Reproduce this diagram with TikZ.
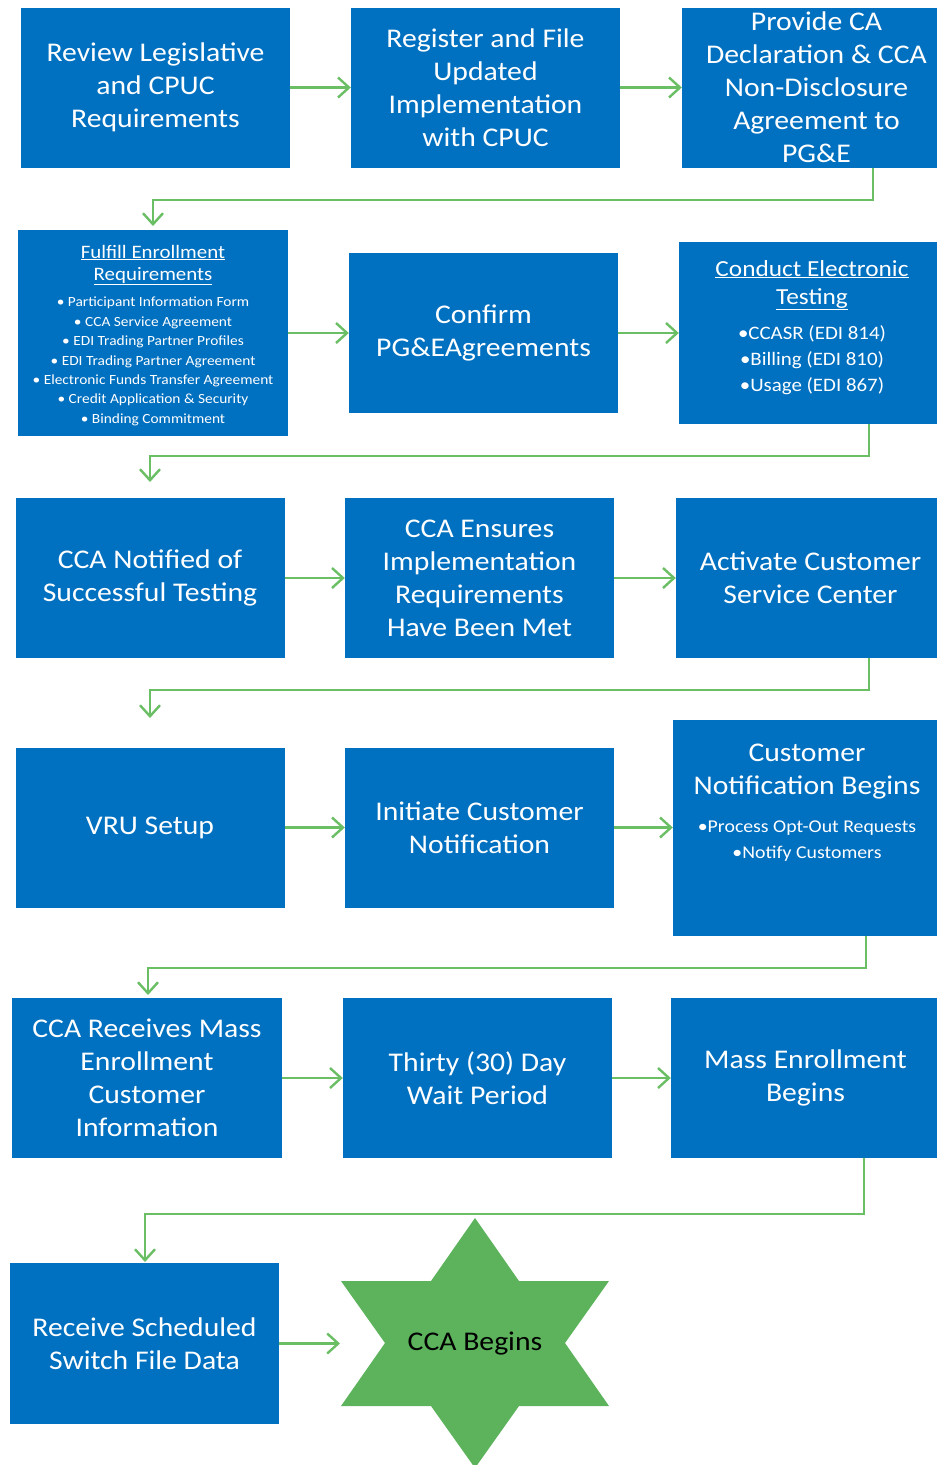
\documentclass[tikz,border=0pt]{standalone}
\usepackage{fontspec}
\setmainfont{Carlito}[FakeStretch=1.1]
\usetikzlibrary{arrows.meta}
\definecolor{ccablue}{RGB}{0,112,192}
\definecolor{conngreen}{RGB}{106,190,100}
\definecolor{stargreen}{RGB}{92,179,92}
\tikzset{
  box/.style={fill=ccablue, text=white, align=center, inner sep=0pt,
    minimum width=269pt, minimum height=160pt, font=\fontsize{27}{33}\selectfont},
  boxtxt/.style={text=white, align=center, inner sep=0pt},
  conn/.style={draw=conngreen, line width=2.4pt, -{Straight Barb[length=11pt,width=20pt]}},
}
\begin{document}
\begin{tikzpicture}[x=1pt,y=-1pt]
\useasboundingbox (0,0) rectangle (937,1465);
% row 1
\node[box] (b1) at (155.5,87.5) {Review Legislative\\and CPUC\\Requirements};
\node[box] (b2) at (485.5,87.5) {Register and File\\Updated\\Implementation\\with CPUC};
\node[box] (b3) at (816.5,87.5) {Provide CA\\Declaration \& CCA\\Non-Disclosure\\Agreement to\\PG\&E};
% row 2
\node[box, minimum width=270pt, minimum height=206pt] (b4) at (153,333) {};
\node[boxtxt, font=\fontsize{19}{22}\selectfont] (t4h) at (153,265) {\underline{Fulfill Enrollment}\\\underline{Requirements}};
\node[boxtxt, font=\fontsize{14}{19.4}\selectfont] (t4b) at (153,361.5) {• Participant Information Form\\• CCA Service Agreement\\• EDI Trading Partner Profiles\\• EDI Trading Partner Agreement\\• Electronic Funds Transfer Agreement\\• Credit Application \& Security\\• Binding Commitment};
\node[box] (b5) at (483.5,333) {Confirm\\PG\&EAgreements};
\node[box, minimum height=182pt] (b6) at (813.5,333) {};
\node[boxtxt, font=\fontsize{23}{28}\selectfont] (t6h) at (812,285) {\underline{Conduct Electronic}\\\underline{Testing}};
\node[boxtxt, font=\fontsize{19}{26}\selectfont] (t6b) at (812,360) {•CCASR (EDI 814)\\•Billing (EDI 810)\\•Usage (EDI 867)};
% row 3
\node[box] (b7) at (150,578) {CCA Notified of\\Successful Testing};
\node[box] (b8) at (479.5,578) {CCA Ensures\\Implementation\\Requirements\\Have Been Met};
\node[box] (b9) at (810.5,578) {Activate Customer\\Service Center};
% row 4
\node[box] (b10) at (150,827.5) {VRU Setup};
\node[box] (b11) at (479.5,827.5) {Initiate Customer\\Notification};
\node[box, minimum height=216pt] (b12) at (807.5,828) {};
\node[boxtxt, font=\fontsize{27}{33}\selectfont] (t12h) at (807,772) {Customer\\Notification Begins};
\node[boxtxt, font=\fontsize{18}{26}\selectfont] (t12b) at (807,841) {•Process Opt-Out Requests\\•Notify Customers};
% row 5
\node[box, minimum width=270pt] (b13) at (147,1078) {CCA Receives Mass\\Enrollment\\Customer\\Information};
\node[box] (b14) at (477.5,1078) {Thirty (30) Day\\Wait Period};
\node[box] (b15) at (805.5,1078) {Mass Enrollment\\Begins};
% row 6
\node[box, minimum height=161pt] (b16) at (144.5,1343.5) {Receive Scheduled\\Switch File Data};
\fill[stargreen] (475,1218) -- (519,1281) -- (609,1281) -- (565,1343) -- (609,1406) -- (519,1406)
  -- (475,1468) -- (431,1406) -- (341,1406) -- (385,1343) -- (341,1281) -- (431,1281) -- cycle;
\node[inner sep=0pt, font=\fontsize{27}{33}\selectfont] (star) at (475,1344) {CCA Begins};
% coordinates for connectors
\coordinate (k1) at (873,200);  \coordinate (e1) at (153,226);
\coordinate (k2) at (869,456);  \coordinate (e2) at (150,482);
\coordinate (k3) at (869,690);  \coordinate (e3) at (150,718);
\coordinate (k4) at (866,968);  \coordinate (e4) at (148,995);
\coordinate (k5) at (864,1214); \coordinate (e5) at (145,1262);
\coordinate (sl) at (340,1343.5);
% horizontal arrows
\draw[conn] (b1.east) -- (b2.west);
\draw[conn] (b2.east) -- (b3.west);
\draw[conn] (b4.east) -- (b5.west);
\draw[conn] (b5.east) -- (b6.west);
\draw[conn] (b7.east) -- (b8.west);
\draw[conn] (b8.east) -- (b9.west);
\draw[conn] (b10.east) -- (b11.west);
\draw[conn] (b11.east) -- (b12.west |- b11.east);
\draw[conn] (b13.east) -- (b14.west);
\draw[conn] (b14.east) -- (b15.west);
\draw[conn] (b16.east) -- (sl);
% elbow connectors
\draw[conn] (b3.south -| k1) -- (k1) -| (e1);
\draw[conn] (b6.south -| k2) -- (k2) -| (e2);
\draw[conn] (b9.south -| k3) -- (k3) -| (e3);
\draw[conn] (b12.south -| k4) -- (k4) -| (e4);
\draw[conn] (b15.south -| k5) -- (k5) -| (e5);
\end{tikzpicture}
\end{document}
